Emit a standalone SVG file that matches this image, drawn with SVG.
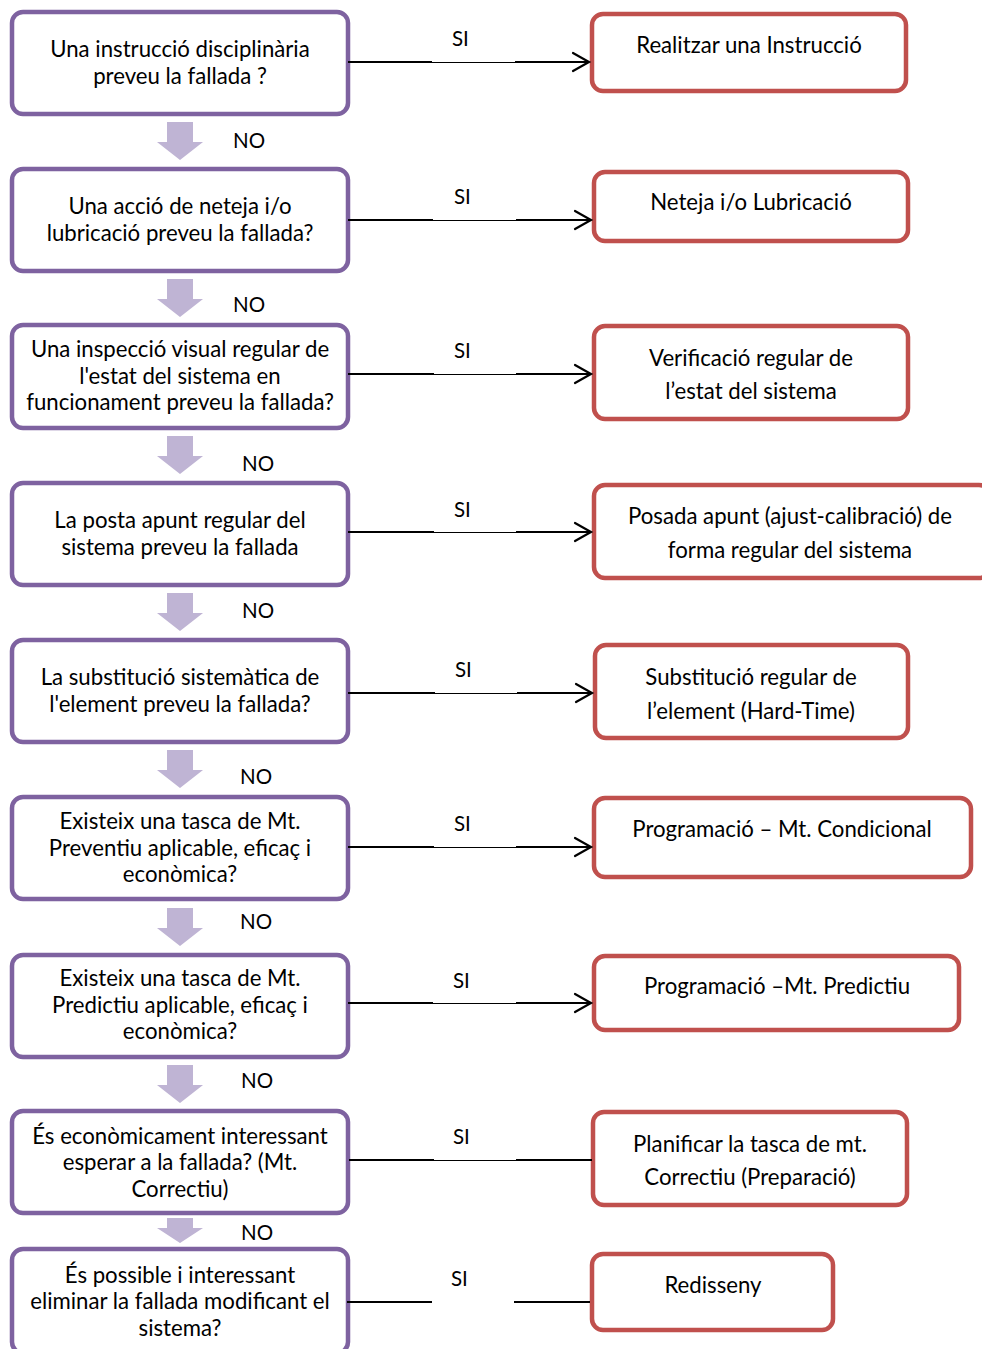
<svg xmlns="http://www.w3.org/2000/svg" width="982" height="1349" viewBox="0 0 982 1349">
  <defs>
    <style>
      .q { fill: #ffffff; stroke: #7e62a0; stroke-width: 4.5; }
      .a { fill: #ffffff; stroke: #c0504d; stroke-width: 4.5; }
      .t { font-family: Lato, "Liberation Sans", sans-serif; font-size: 22.2px; fill: #000000; text-anchor: middle; }
      .lbl { font-family: Lato, "Liberation Sans", sans-serif; font-size: 20.5px; fill: #000000; }
      .down { fill: #bfb4d4; }
      .thick { stroke: #000000; stroke-width: 2.2; fill: none; }
      .thin { stroke: #000000; stroke-width: 1; fill: none; }
      .head { stroke: #000000; stroke-width: 2.2; fill: none; stroke-linecap: round; stroke-linejoin: miter; }
    </style>
    <!-- block arrow pointing down, used between question boxes -->
    <path id="dn" d="M-13,0 H13 V20 H23 L0,38 L-23,20 H-13 Z"/>
  </defs>

  <!-- question boxes (left column) -->
  <g id="q1">
    <rect class="q" x="12" y="12" width="336" height="102" rx="11"/>
    <text class="t" x="180" y="57">Una instrucció disciplinària</text>
    <text class="t" x="180" y="84">preveu la fallada ?</text>
  </g>
  <g id="q2">
    <rect class="q" x="12" y="169" width="336" height="102" rx="11"/>
    <text class="t" x="180" y="214">Una acció de neteja i/o</text>
    <text class="t" x="180" y="241">lubricació preveu la fallada?</text>
  </g>
  <g id="q3">
    <rect class="q" x="12" y="325" width="336" height="103" rx="11"/>
    <text class="t" x="180" y="357">Una inspecció visual regular de</text>
    <text class="t" x="180" y="384">l'estat del sistema en</text>
    <text class="t" x="180" y="410">funcionament preveu la fallada?</text>
  </g>
  <g id="q4">
    <rect class="q" x="12" y="483" width="336" height="102" rx="11"/>
    <text class="t" x="180" y="528">La posta apunt regular del</text>
    <text class="t" x="180" y="555">sistema preveu la fallada</text>
  </g>
  <g id="q5">
    <rect class="q" x="12" y="640" width="336" height="102" rx="11"/>
    <text class="t" x="180" y="685">La substitució sistemàtica de</text>
    <text class="t" x="180" y="712">l'element preveu la fallada?</text>
  </g>
  <g id="q6">
    <rect class="q" x="12" y="797" width="336" height="102" rx="11"/>
    <text class="t" x="180" y="829">Existeix una tasca de Mt.</text>
    <text class="t" x="180" y="856">Preventiu aplicable, eficaç i</text>
    <text class="t" x="180" y="882">econòmica?</text>
  </g>
  <g id="q7">
    <rect class="q" x="12" y="955" width="336" height="102" rx="11"/>
    <text class="t" x="180" y="986">Existeix una tasca de Mt.</text>
    <text class="t" x="180" y="1013">Predictiu aplicable, eficaç i</text>
    <text class="t" x="180" y="1039">econòmica?</text>
  </g>
  <g id="q8">
    <rect class="q" x="12" y="1111" width="336" height="102" rx="11"/>
    <text class="t" x="180" y="1144">És econòmicament interessant</text>
    <text class="t" x="180" y="1170">esperar a la fallada? (Mt.</text>
    <text class="t" x="180" y="1197">Correctiu)</text>
  </g>
  <g id="q9">
    <rect class="q" x="12" y="1249" width="336" height="104" rx="11"/>
    <text class="t" x="180" y="1283">És possible i interessant</text>
    <text class="t" x="180" y="1309">eliminar la fallada modificant el</text>
    <text class="t" x="180" y="1336">sistema?</text>
  </g>

  <!-- action boxes (right column) -->
  <g id="a1">
    <rect class="a" x="592" y="14" width="314" height="77" rx="11"/>
    <text class="t" x="749" y="53">Realitzar una Instrucció</text>
  </g>
  <g id="a2">
    <rect class="a" x="594" y="172" width="314" height="69" rx="11"/>
    <text class="t" x="751" y="210">Neteja i/o Lubricació</text>
  </g>
  <g id="a3">
    <rect class="a" x="594" y="326" width="314" height="93" rx="11"/>
    <text class="t" x="751" y="366">Verificació regular de</text>
    <text class="t" x="751" y="399">l’estat del sistema</text>
  </g>
  <g id="a4">
    <rect class="a" x="594" y="485" width="396" height="93" rx="11"/>
    <text class="t" x="790" y="524">Posada apunt (ajust-calibració) de</text>
    <text class="t" x="790" y="558">forma regular del sistema</text>
  </g>
  <g id="a5">
    <rect class="a" x="595" y="645" width="313" height="93" rx="11"/>
    <text class="t" x="751" y="685">Substitució regular de</text>
    <text class="t" x="751" y="719">l’element (Hard-Time)</text>
  </g>
  <g id="a6">
    <rect class="a" x="594" y="798" width="377" height="79" rx="11"/>
    <text class="t" x="782" y="837">Programació – Mt. Condicional</text>
  </g>
  <g id="a7">
    <rect class="a" x="594" y="956" width="365" height="74" rx="11"/>
    <text class="t" x="777" y="994">Programació –Mt. Predictiu</text>
  </g>
  <g id="a8">
    <rect class="a" x="593" y="1112" width="314" height="93" rx="11"/>
    <text class="t" x="750" y="1152">Planificar la tasca de mt.</text>
    <text class="t" x="750" y="1185">Correctiu (Preparació)</text>
  </g>
  <g id="a9">
    <rect class="a" x="592" y="1254" width="241" height="76" rx="11"/>
    <text class="t" x="713" y="1293">Redisseny</text>
  </g>

  <!-- connectors: "SI" branches and "NO" down arrows -->
  <g id="connectors">
    <!-- SI 1 -->
    <path class="thick" d="M348,62 H432 M515,62 H589"/>
    <path class="thin" d="M432,62.5 H515"/>
    <path class="head" d="M573,53 L589,62 L573,71"/>
    <text class="lbl" x="452" y="46">SI</text>
    <!-- SI 2 -->
    <path class="thick" d="M348,220 H433 M516,220 H591"/>
    <path class="thin" d="M433,220.5 H516"/>
    <path class="head" d="M575,211 L591,220 L575,229"/>
    <text class="lbl" x="454" y="204">SI</text>
    <!-- SI 3 -->
    <path class="thick" d="M348,374 H434 M516,374 H591"/>
    <path class="thin" d="M434,374.5 H516"/>
    <path class="head" d="M575,365 L591,374 L575,383"/>
    <text class="lbl" x="454" y="358">SI</text>
    <!-- SI 4 -->
    <path class="thick" d="M348,532 H434 M516,532 H591"/>
    <path class="thin" d="M434,532.5 H516"/>
    <path class="head" d="M575,523 L591,532 L575,541"/>
    <text class="lbl" x="454" y="517">SI</text>
    <!-- SI 5 -->
    <path class="thick" d="M348,693 H435 M517,693 H592"/>
    <path class="thin" d="M435,693.5 H517"/>
    <path class="head" d="M576,684 L592,693 L576,702"/>
    <text class="lbl" x="455" y="677">SI</text>
    <!-- SI 6 -->
    <path class="thick" d="M348,847 H434 M516,847 H591"/>
    <path class="thin" d="M434,847.5 H516"/>
    <path class="head" d="M575,838 L591,847 L575,856"/>
    <text class="lbl" x="454" y="831">SI</text>
    <!-- SI 7 -->
    <path class="thick" d="M348,1003 H433 M516,1003 H591"/>
    <path class="thin" d="M433,1003.5 H516"/>
    <path class="head" d="M575,994 L591,1003 L575,1012"/>
    <text class="lbl" x="453" y="988">SI</text>
    <!-- SI 8 (no arrowhead) -->
    <path class="thick" d="M349,1160 H434 M516,1160 H592"/>
    <path class="thin" d="M434,1160.5 H516"/>
    <text class="lbl" x="453" y="1144">SI</text>
    <!-- SI 9 (broken line, no arrowhead) -->
    <path class="thick" d="M347,1302 H432 M514,1302 H590"/>
    <text class="lbl" x="451" y="1286">SI</text>

    <!-- NO arrows -->
    <use href="#dn" class="down" x="180" y="122"/>
    <text class="lbl" x="233" y="148">NO</text>
    <use href="#dn" class="down" x="180" y="279"/>
    <text class="lbl" x="233" y="312">NO</text>
    <use href="#dn" class="down" x="180" y="436"/>
    <text class="lbl" x="242" y="471">NO</text>
    <use href="#dn" class="down" x="180" y="593"/>
    <text class="lbl" x="242" y="618">NO</text>
    <use href="#dn" class="down" x="180" y="750"/>
    <text class="lbl" x="240" y="784">NO</text>
    <use href="#dn" class="down" x="180" y="908"/>
    <text class="lbl" x="240" y="929">NO</text>
    <use href="#dn" class="down" x="180" y="1065"/>
    <text class="lbl" x="241" y="1088">NO</text>
    <path class="down" d="M167,1218 H193 V1228 H203 L180,1243 L157,1228 H167 Z"/>
    <text class="lbl" x="241" y="1240">NO</text>
  </g>
</svg>
